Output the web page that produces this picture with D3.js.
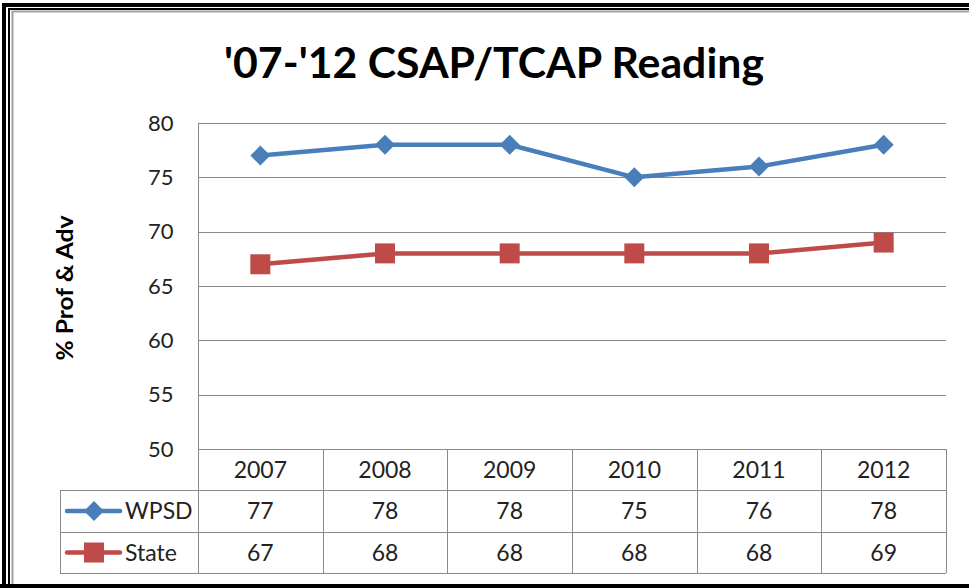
<!DOCTYPE html>
<html>
<head>
<meta charset="utf-8">
<script src="https://cdn.jsdelivr.net/npm/d3@7"></script>
<style>
  body { margin: 0; background: #fff; }
  svg { display: block; }
</style>
</head>
<body>
<svg id="chart" width="969" height="588"></svg>
<script>
// data
var years = ["2007", "2008", "2009", "2010", "2011", "2012"];
var wpsd = [77, 78, 78, 75, 76, 78];
var state = [67, 68, 68, 68, 68, 69];
var yTicks = [50, 55, 60, 65, 70, 75, 80];

var font = "Lato, 'Open Sans', sans-serif";
var svg = d3.select("#chart");

// frame
svg.append("rect").attr("width", 969).attr("height", 588).attr("fill", "#fff");
svg.append("path").attr("d", "M4,588 V5 H969").attr("fill", "none").attr("stroke", "#000").attr("stroke-width", 4);
svg.append("path").attr("d", "M9,588 V9 H969").attr("fill", "none").attr("stroke", "#000").attr("stroke-width", 2);
svg.append("path").attr("d", "M12.5,584 V11.5 H969").attr("fill", "none").attr("stroke", "#a0a0a0").attr("stroke-width", 2);
svg.append("line").attr("x1", 0).attr("x2", 969).attr("y1", 586).attr("y2", 586)
    .attr("stroke", "#000").attr("stroke-width", 4);

var plotLeft = 198, plotRight = 946, plotTop = 123, plotBottom = 449;
var rowH = [449, 490, 532, 573];
var tableLeft = 60;

var x = d3.scaleBand().domain(years).range([plotLeft, plotRight]);
var y = d3.scaleLinear().domain([50, 80]).range([plotBottom, plotTop]);

// title
svg.append("text")
    .attr("x", 494).attr("y", 78)
    .attr("text-anchor", "middle")
    .attr("font-family", font).attr("font-weight", "bold")
    .attr("font-size", 42)
    .attr("textLength", 540).attr("lengthAdjust", "spacingAndGlyphs")
    .text("'07-'12 CSAP/TCAP Reading");

// gridlines
var grid = "#8a8a8a";
svg.append("g").selectAll("line").data(yTicks).join("line")
    .attr("x1", plotLeft).attr("x2", plotRight)
    .attr("y1", d => Math.round(y(d)) + 0.5).attr("y2", d => Math.round(y(d)) + 0.5)
    .attr("stroke", grid);

// y axis
var yAxis = d3.axisLeft(y).tickValues(yTicks).tickSize(0).tickPadding(25);
var ya = svg.append("g").attr("transform", "translate(" + (plotLeft + 0.5) + ",0)").call(yAxis);
ya.select(".domain").remove();
ya.selectAll("text").attr("font-family", font).attr("font-size", 22).attr("fill", "#222");
svg.append("line").attr("x1", plotLeft + 0.5).attr("x2", plotLeft + 0.5)
    .attr("y1", plotTop).attr("y2", rowH[3]).attr("stroke", grid);

svg.append("text")
    .attr("transform", "translate(73,288) rotate(-90)")
    .attr("text-anchor", "middle")
    .attr("font-family", font).attr("font-weight", "bold").attr("font-size", 23)
    .attr("textLength", 145).attr("lengthAdjust", "spacingAndGlyphs")
    .text("% Prof & Adv");

// data table lines
var tbl = svg.append("g").attr("stroke", grid);
rowH.slice(1).forEach(function (h) {
    tbl.append("line").attr("x1", tableLeft).attr("x2", plotRight)
        .attr("y1", h + 0.5).attr("y2", h + 0.5);
});
years.forEach(function (yr) {
    var bx = Math.round(x(yr) + x.bandwidth()) + 0.5;
    tbl.append("line").attr("x1", bx).attr("x2", bx).attr("y1", rowH[0]).attr("y2", rowH[3]);
});
tbl.append("line").attr("x1", tableLeft + 0.5).attr("x2", tableLeft + 0.5)
    .attr("y1", rowH[1]).attr("y2", rowH[3]);

// header row years
var cellSize = 23;
svg.append("g").selectAll("text").data(years).join("text")
    .attr("x", d => x(d) + x.bandwidth() / 2)
    .attr("y", (rowH[0] + rowH[1]) / 2 + 8)
    .attr("text-anchor", "middle")
    .attr("font-family", font).attr("font-size", cellSize).attr("fill", "#222")
    .text(d => d);

var series = [
    { name: "WPSD", values: wpsd, color: "#4a7ebb", marker: "diamond", row: 1 },
    { name: "State", values: state, color: "#be4b48", marker: "square", row: 2 }
];

function drawMarker(g, s, cx, cy) {
    if (s.marker === "diamond") {
        g.append("path")
            .attr("d", "M" + cx + "," + (cy - 10) + " L" + (cx + 10) + "," + cy +
                " L" + cx + "," + (cy + 10) + " L" + (cx - 10) + "," + cy + "Z")
            .attr("fill", s.color);
    } else {
        g.append("rect").attr("x", cx - 10).attr("y", cy - 10)
            .attr("width", 20).attr("height", 20).attr("fill", s.color);
    }
}

var line = d3.line()
    .x((d, i) => x(years[i]) + x.bandwidth() / 2)
    .y(d => y(d));

series.forEach(function (s) {
    var g = svg.append("g");
    g.append("path").datum(s.values)
        .attr("d", line)
        .attr("fill", "none").attr("stroke", s.color).attr("stroke-width", 4.5)
        .attr("stroke-linejoin", "round");
    s.values.forEach(function (v, i) {
        drawMarker(g, s, x(years[i]) + x.bandwidth() / 2, y(v));
    });

    // table row
    var cy = (rowH[s.row] + rowH[s.row + 1]) / 2;
    var lg = svg.append("g");
    lg.append("line").attr("x1", 67).attr("x2", 120).attr("y1", cy).attr("y2", cy)
        .attr("stroke", s.color).attr("stroke-width", 4.5).attr("stroke-linecap", "round");
    drawMarker(lg, s, 94, cy);
    lg.append("text").attr("x", 125).attr("y", cy + 8)
        .attr("font-family", font).attr("font-size", cellSize).attr("fill", "#222")
        .text(s.name);
    svg.append("g").selectAll("text").data(s.values).join("text")
        .attr("x", (d, i) => x(years[i]) + x.bandwidth() / 2)
        .attr("y", cy + 8)
        .attr("text-anchor", "middle")
        .attr("font-family", font).attr("font-size", cellSize).attr("fill", "#222")
        .text(d => d);
});
</script>
</body>
</html>
